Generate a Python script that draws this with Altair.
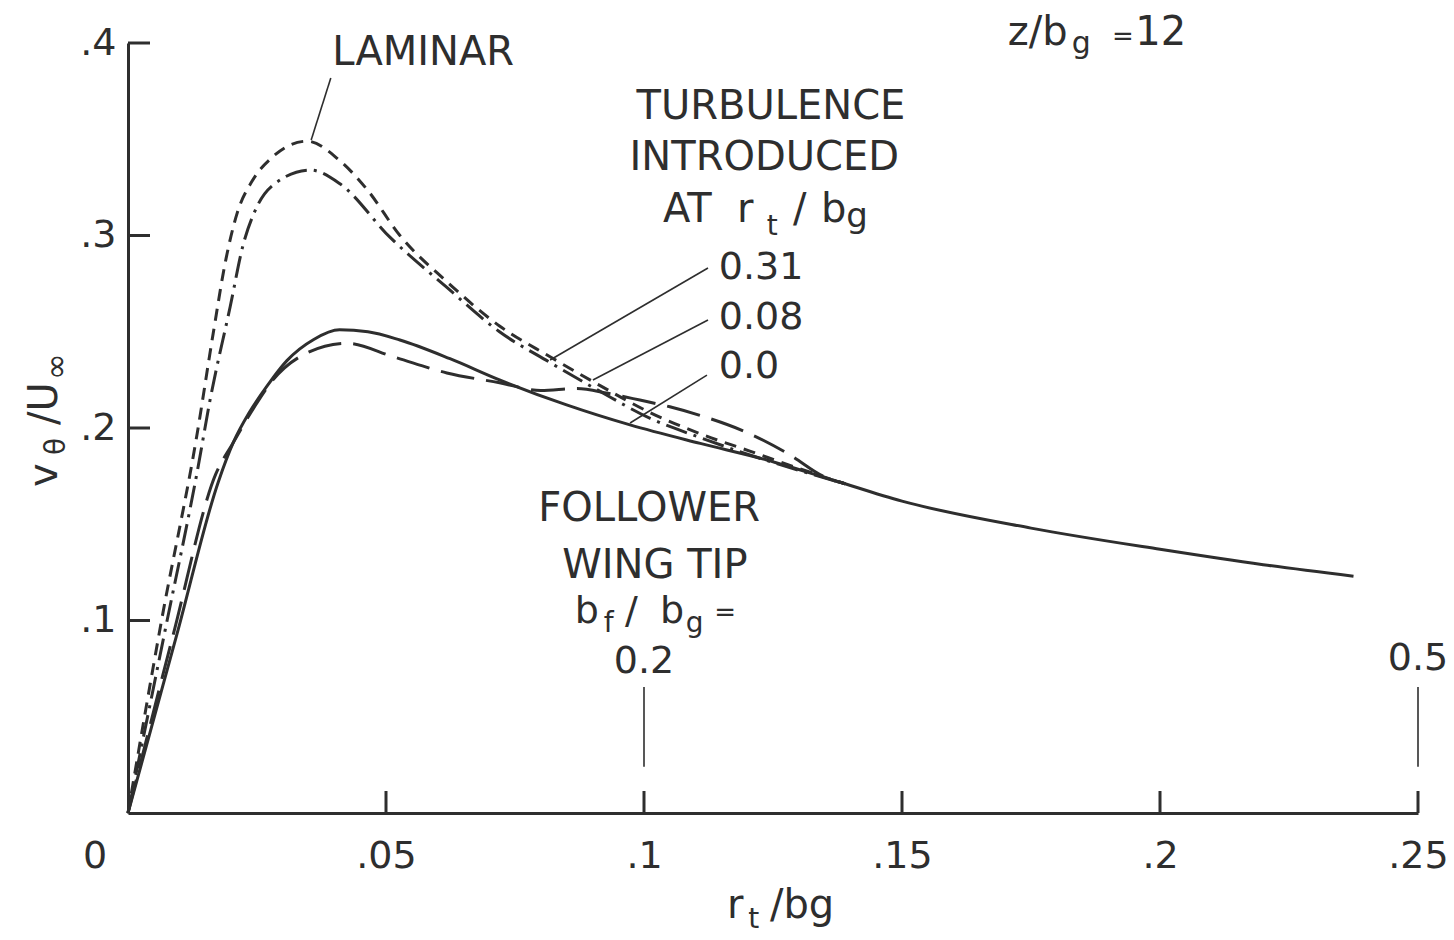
import altair as alt
import pandas as pd

INK = "#2e2e2e"
FONT = "DejaVu Sans"

# ---------------- data ----------------
LAM_X = [0, 0.0065, 0.0134, 0.0165, 0.019, 0.0212, 0.024, 0.0281, 0.0347, 0.041, 0.0463,
         0.0527, 0.0618, 0.072, 0.0818, 0.0915, 0.1012, 0.1109, 0.1205, 0.130, 0.139]
LAM_Y = [0, 0.100, 0.197, 0.249, 0.288, 0.312, 0.328, 0.341, 0.349, 0.339, 0.324,
         0.300, 0.276, 0.253, 0.237, 0.222, 0.208, 0.197, 0.188, 0.179, 0.171]

T031_X = [0, 0.0072, 0.0136, 0.0159, 0.0198, 0.0223, 0.025, 0.029, 0.0353, 0.041, 0.0508,
          0.0618, 0.072, 0.0818, 0.0915, 0.1012, 0.1109, 0.1205, 0.130, 0.139]
T031_Y = [0, 0.095, 0.180, 0.2145, 0.263, 0.295, 0.315, 0.328, 0.334, 0.327, 0.299,
          0.273, 0.250, 0.234, 0.219, 0.205, 0.195, 0.186, 0.178, 0.171]

T008_X = [0, 0.0088, 0.017, 0.0203, 0.0245, 0.0281, 0.0347, 0.0424, 0.0514, 0.0618,
          0.072, 0.080, 0.087, 0.093, 0.0992, 0.105, 0.1109, 0.1205, 0.1283, 0.1347, 0.139]
T008_Y = [0, 0.093, 0.176, 0.192, 0.211, 0.225, 0.239, 0.244, 0.237, 0.2286,
          0.2235, 0.2195, 0.2205, 0.218, 0.2145, 0.211, 0.2065, 0.197, 0.186, 0.175, 0.171]

T000_X = [0, 0.0095, 0.0175, 0.0205, 0.0235, 0.027, 0.0308, 0.036, 0.041, 0.0465, 0.0527,
          0.0624, 0.072, 0.085, 0.0973, 0.1109, 0.1238, 0.1366, 0.15, 0.175, 0.2, 0.22, 0.2375]
T000_Y = [0, 0.093, 0.172, 0.193, 0.208, 0.222, 0.235, 0.246, 0.251, 0.250, 0.2457,
          0.236, 0.225, 0.212, 0.2016, 0.192, 0.1834, 0.173, 0.162, 0.148, 0.137, 0.129, 0.123]

X_TICKS = [0, 0.05, 0.1, 0.15, 0.2, 0.25]
Y_TICKS = [0, 0.1, 0.2, 0.3, 0.4]

# leader lines (data coords): x, y, x2, y2
LEADERS = [
    (0.0393, 0.3818, 0.0355, 0.3496),   # LAMINAR
    (0.1124, 0.2831, 0.0818, 0.2353),   # 0.31
    (0.1124, 0.2561, 0.0901, 0.2249),   # 0.08
    (0.1122, 0.2275, 0.0973, 0.2026),   # 0.0
]
WING_TIPS = [0.1, 0.25]

# ---------------- scales ----------------
W, H = 1290, 770
XDOM, YDOM = [0, 0.25], [0, 0.4]
xs = alt.Scale(domain=XDOM, nice=False, zero=False)
ys = alt.Scale(domain=YDOM, nice=False, zero=False)
TICK_X = 22 / W * (XDOM[1] - XDOM[0])
TICK_Y = 22 / H * (YDOM[1] - YDOM[0])

label_expr = "datum.value == 0 ? '' : replace(format(datum.value, '.2~f'), '0.', '.')"

def curve(xv, yv, dash):
    df = pd.DataFrame({"x": xv, "y": yv})
    kw = dict(strokeWidth=3, color=INK, interpolate="monotone")
    if dash:
        kw["strokeDash"] = dash
    return alt.Chart(df).mark_line(**kw).encode(
        x=alt.X("x:Q", scale=xs, title=None,
                axis=alt.Axis(values=X_TICKS, labelExpr=label_expr, ticks=False, grid=False,
                              domainColor=INK, domainWidth=3, labelFontSize=38, labelFont=FONT,
                              labelColor=INK, labelPadding=24, labelFlush=False)),
        y=alt.Y("y:Q", scale=ys, title=None,
                axis=alt.Axis(values=Y_TICKS, labelExpr=label_expr, ticks=False, grid=False,
                              domainColor=INK, domainWidth=3, labelFontSize=38, labelFont=FONT,
                              labelColor=INK, labelPadding=12)),
        order=alt.Order("x:Q"),
    )

layers = [
    curve(T000_X, T000_Y, None),
    curve(T008_X, T008_Y, [34, 12]),
    curve(T031_X, T031_Y, [22, 7, 3, 7]),
    curve(LAM_X, LAM_Y, [12, 8]),
]

# inward tick marks
xt = pd.DataFrame({"x": X_TICKS[1:], "y": 0.0, "y2": TICK_Y})
layers.append(alt.Chart(xt).mark_rule(color=INK, strokeWidth=3).encode(
    x=alt.X("x:Q", scale=xs), y=alt.Y("y:Q", scale=ys), y2="y2:Q"))
yt = pd.DataFrame({"y": Y_TICKS[1:], "x": 0.0, "x2": TICK_X})
layers.append(alt.Chart(yt).mark_rule(color=INK, strokeWidth=3).encode(
    y=alt.Y("y:Q", scale=ys), x=alt.X("x:Q", scale=xs), x2="x2:Q"))

# leader lines
ld = pd.DataFrame(LEADERS, columns=["x", "y", "x2", "y2"])
layers.append(alt.Chart(ld).mark_rule(color=INK, strokeWidth=1.6).encode(
    x=alt.X("x:Q", scale=xs), y=alt.Y("y:Q", scale=ys), x2="x2:Q", y2="y2:Q"))

# wing tip markers
wt = pd.DataFrame({"x": WING_TIPS, "y": 0.024, "y2": 0.0655})
layers.append(alt.Chart(wt).mark_rule(color=INK, strokeWidth=1.6).encode(
    x=alt.X("x:Q", scale=xs), y=alt.Y("y:Q", scale=ys), y2="y2:Q"))

# ---------------- text annotations ----------------
# (text, x, y, size, align, baseline, angle)
TEXTS = [
    ("LAMINAR", 0.0572, 0.3948, 40, "center", "middle", 0),
    ("TURBULENCE", 0.1246, 0.3668, 40, "center", "middle", 0),
    ("INTRODUCED", 0.1233, 0.3403, 40, "center", "middle", 0),
    ("AT", 0.1037, 0.3070, 40, "left", "alphabetic", 0),
    ("r", 0.1180, 0.3070, 40, "left", "alphabetic", 0),
    ("t", 0.1238, 0.3003, 28, "left", "alphabetic", 0),
    ("/", 0.1289, 0.3070, 40, "left", "alphabetic", 0),
    ("b", 0.1343, 0.3070, 40, "left", "alphabetic", 0),
    ("g", 0.1392, 0.3044, 34, "left", "alphabetic", 0),
    ("0.31", 0.1145, 0.2831, 38, "left", "middle", 0),
    ("0.08", 0.1145, 0.2571, 38, "left", "middle", 0),
    ("0.0", 0.1145, 0.2317, 38, "left", "middle", 0),
    ("FOLLOWER", 0.1010, 0.1579, 40, "center", "middle", 0),
    ("WING TIP", 0.1021, 0.1283, 40, "center", "middle", 0),
    ("b", 0.0866, 0.0987, 38, "left", "alphabetic", 0),
    ("f", 0.0922, 0.0940, 28, "left", "alphabetic", 0),
    ("/", 0.0963, 0.0987, 38, "left", "alphabetic", 0),
    ("b", 0.1031, 0.0987, 38, "left", "alphabetic", 0),
    ("g", 0.1081, 0.0940, 28, "left", "alphabetic", 0),
    ("=", 0.1136, 0.0997, 26, "left", "alphabetic", 0),
    ("0.2", 0.1, 0.0784, 38, "center", "middle", 0),
    ("0.5", 0.25, 0.0800, 38, "center", "middle", 0),
    ("z/b", 0.1705, 0.3990, 40, "left", "alphabetic", 0),
    ("g", 0.1829, 0.3948, 30, "left", "alphabetic", 0),
    ("=", 0.1907, 0.3990, 26, "left", "alphabetic", 0),
    ("12", 0.1952, 0.3990, 40, "left", "alphabetic", 0),
    ("0", -0.0064, -0.0229, 38, "center", "middle", 0),
    # x-axis title
    ("r", 0.1161, -0.0545, 40, "left", "alphabetic", 0),
    ("t", 0.1202, -0.0597, 28, "left", "alphabetic", 0),
    ("/bg", 0.1244, -0.0545, 40, "left", "alphabetic", 0),
    # y-axis title (rotated)
    ("v", -0.01376, 0.1694, 40, "left", "alphabetic", 270),
    ("θ", -0.0122, 0.1860, 28, "left", "alphabetic", 270),
    ("/U", -0.01376, 0.2016, 40, "left", "alphabetic", 270),
    ("∞", -0.0118, 0.2250, 32, "left", "alphabetic", 270),
]

for (t, x, y, size, align, base, ang) in TEXTS:
    df = pd.DataFrame({"x": [x], "y": [y], "t": [t]})
    kw = dict(font=FONT, fontSize=size, color=INK, align=align, baseline=base)
    if ang:
        kw["angle"] = ang
    layers.append(alt.Chart(df).mark_text(**kw).encode(
        x=alt.X("x:Q", scale=xs), y=alt.Y("y:Q", scale=ys), text="t:N"))

chart = alt.layer(*layers).properties(
    width=W, height=H,
    autosize=alt.AutoSizeParams(type="none"),
    padding={"left": 128, "top": 43, "right": 36, "bottom": 127},
    background="white",
).configure_view(stroke=None)

chart.save("out.html", embed_options={"renderer": "svg", "actions": False})
